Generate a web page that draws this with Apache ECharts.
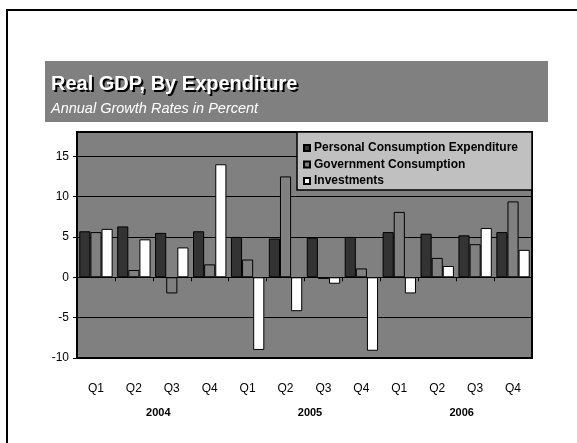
<!DOCTYPE html>
<html>
<head>
<meta charset="utf-8">
<style>
  html, body { margin: 0; padding: 0; background: #fff; }
  #chart { width: 577px; height: 443px; }
</style>
<script src="https://cdn.jsdelivr.net/npm/echarts@6/dist/echarts.min.js"></script>
</head>
<body>
<div id="chart"></div>
<script>
// Quarterly real GDP growth by expenditure component, 2004–2006
const quarters = ['Q1', 'Q2', 'Q3', 'Q4', 'Q1', 'Q2', 'Q3', 'Q4', 'Q1', 'Q2', 'Q3', 'Q4'];
const years = ['2004', '2005', '2006'];
const personalConsumption = [5.7, 6.3, 5.5, 5.7, 5.0, 4.8, 4.9, 5.0, 5.6, 5.4, 5.2, 5.6];
const governmentConsumption = [5.6, 0.9, -2.0, 1.6, 2.2, 12.5, -0.2, 1.1, 8.1, 2.4, 4.1, 9.4];
const investments = [6.0, 4.7, 3.7, 14.0, -9.0, -4.2, -0.8, -9.1, -2.0, 1.4, 6.1, 3.4];
const yTicks = [-10, -5, 0, 5, 10, 15];

const TITLE = 'Real GDP, By Expenditure';
const SUBTITLE = 'Annual Growth Rates in Percent';

const FONT = '"Liberation Sans", Arial, sans-serif';
const chart = echarts.init(document.getElementById('chart'), null, { renderer: 'canvas' });

const barStyle = (color) => ({ color: color, borderColor: '#000', borderWidth: 1 });

chart.setOption({
  backgroundColor: '#fff',
  animation: false,
  textStyle: { fontFamily: FONT },
  graphic: [
    // slide frame
    { type: 'rect', shape: { x: 7, y: 10, width: 620, height: 480 },
      style: { fill: 'none', stroke: '#000', lineWidth: 2 }, z: 0 },
    // title band
    { type: 'rect', shape: { x: 45, y: 61, width: 503, height: 61 },
      style: { fill: '#808080' }, z: 0 },
    // title: dark drop copy, then white text on top
    { type: 'text', x: 53, y: 76, z: 1,
      style: { text: TITLE, fill: '#000', font: 'bold 20px ' + FONT, textBaseline: 'top' } },
    { type: 'text', x: 51, y: 74, z: 2,
      style: { text: TITLE, fill: '#fff', font: 'bold 20px ' + FONT, textBaseline: 'top' } },
    { type: 'text', x: 51, y: 101, z: 2,
      style: { text: SUBTITLE, fill: '#fff', font: 'italic 14.5px ' + FONT, textBaseline: 'top' } },
    // legend box
    { type: 'rect', shape: { x: 297, y: 132, width: 235, height: 58 },
      style: { fill: '#c0c0c0', stroke: '#000', lineWidth: 1.5 }, z: 10 }
  ],
  legend: {
    orient: 'vertical',
    left: 303, top: 142,
    padding: 0,
    itemWidth: 6, itemHeight: 6, itemGap: 4.5,
    icon: 'rect',
    z: 11,
    textStyle: { fontFamily: FONT, fontSize: 12, fontWeight: 'bold', color: '#000', padding: [0, 0, 0, -1] },
    data: ['Personal Consumption Expenditure', 'Government Consumption', 'Investments']
  },
  grid: {
    left: 77, top: 132, right: 45, bottom: 85,
    show: true, backgroundColor: '#808080', borderColor: '#000', borderWidth: 2
  },
  xAxis: [
    {
      type: 'category', data: quarters,
      axisLine: { show: true, onZero: true, lineStyle: { color: '#000', width: 1 } },
      axisTick: { show: true, length: 4, lineStyle: { color: '#000' } },
      axisLabel: { show: false },
      splitLine: { show: false }
    },
    {
      type: 'category', data: quarters, position: 'bottom',
      axisLine: { show: false, onZero: false },
      axisTick: { show: false },
      axisLabel: { margin: 25, fontFamily: FONT, fontSize: 12, color: '#000' }
    },
    {
      type: 'category', data: years, position: 'bottom',
      axisLine: { show: false, onZero: false },
      axisTick: { show: false },
      axisLabel: { margin: 49, fontFamily: FONT, fontSize: 11, fontWeight: 'bold', color: '#000', padding: [0, 0, 0, 11] }
    }
  ],
  yAxis: {
    type: 'value', min: -10, max: 18, interval: 5,
    axisLine: { show: true, lineStyle: { color: '#000' } },
    axisTick: { show: true, length: 4, inside: false, lineStyle: { color: '#000' }, customValues: yTicks },
    axisLabel: { margin: 8, fontFamily: FONT, fontSize: 12, color: '#000', customValues: yTicks },
    splitLine: { show: true, lineStyle: { color: '#000', width: 1 } }
  },
  series: [
    {
      name: 'Personal Consumption Expenditure', type: 'bar', xAxisIndex: 0,
      data: personalConsumption, itemStyle: barStyle('#333333'),
      barGap: '0%', barCategoryGap: '12%'
    },
    {
      name: 'Government Consumption', type: 'bar', xAxisIndex: 0,
      data: governmentConsumption, itemStyle: barStyle('#808080'),
      barGap: '0%', barCategoryGap: '12%'
    },
    {
      name: 'Investments', type: 'bar', xAxisIndex: 0,
      data: investments, itemStyle: barStyle('#ffffff'),
      barGap: '0%', barCategoryGap: '12%'
    }
  ]
});
</script>
</body>
</html>
